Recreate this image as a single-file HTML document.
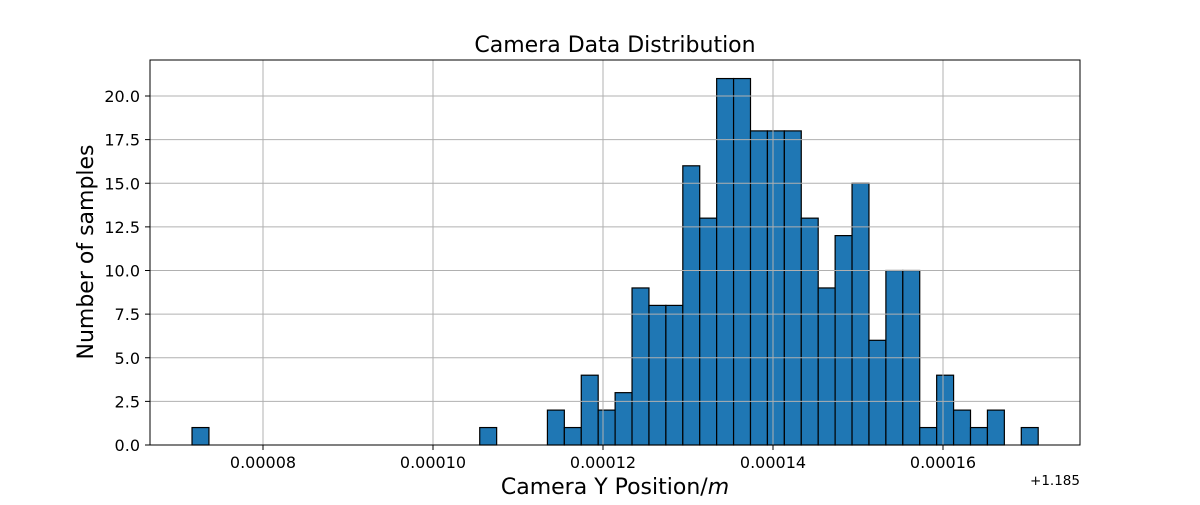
<!DOCTYPE html>
<html><head><meta charset="utf-8"><style>
body{margin:0;background:#fff;}
svg text{font-family:"DejaVu Sans","Liberation Sans",sans-serif;}
</style></head><body>
<svg id="chart" width="1200" height="500">
<rect x="0" y="0" width="1200" height="500" fill="#fff"/>
<g id="bars"></g>
<g id="grid"></g>
<g id="axes"></g>
<text x="615" y="52" font-size="22" text-anchor="middle">Camera Data Distribution</text>
<text x="615" y="494" font-size="22" text-anchor="middle">Camera Y Position/<tspan font-style="italic">m</tspan></text>
<text transform="translate(93,252) rotate(-90)" font-size="22" text-anchor="middle">Number of samples</text>
<text x="1080" y="485" font-size="13.5" text-anchor="end">+1.185</text>
</svg>
<script>
const counts=[1,0,0,0,0,0,0,0,0,0,0,0,0,0,0,0,0,1,0,0,0,2,1,4,2,3,9,8,8,16,13,21,21,18,18,18,13,9,12,15,6,10,10,1,4,2,1,2,0,1];
const binStart=71.65; // in 1e-6 units offset
const binEnd=171.2;
const xTicks=[80,100,120,140,160];
const xTickLabels=["0.00008","0.00010","0.00012","0.00014","0.00016"];
const yTicks=[0,2.5,5,7.5,10,12.5,15,17.5,20];
const yTickLabels=["0.0","2.5","5.0","7.5","10.0","12.5","15.0","17.5","20.0"];

const L=150,R=1080,T=60,B=445;
function X(v){return 263+(v-80)*8.5;}
function Y(v){return B-v*17.45;}
const NS="http://www.w3.org/2000/svg";
function mk(t,a,p){const e=document.createElementNS(NS,t);for(const k in a)e.setAttribute(k,a[k]);p.appendChild(e);return e;}
const bars=document.getElementById('bars'),grid=document.getElementById('grid'),axes=document.getElementById('axes');
const w=(binEnd-binStart)/counts.length;
counts.forEach((c,i)=>{
  if(c<=0)return;
  const x0=X(binStart+i*w),x1=X(binStart+(i+1)*w);
  const r=mk('rect',{x:x0,y:Y(c),width:x1-x0,height:B-Y(c),fill:'#1f77b4',stroke:'#000','stroke-width':1.2},bars);
  
  
});
xTicks.forEach((v,i)=>{
  const x=X(v);
  mk('line',{x1:x,x2:x,y1:T,y2:B,stroke:'#b0b0b0','stroke-width':1},grid);
  mk('line',{x1:x,x2:x,y1:B,y2:B+5,stroke:'#000','stroke-width':1},axes);
  const t=mk('text',{x:x,y:B+23,'font-size':16,'text-anchor':'middle'},axes);
  t.textContent=xTickLabels[i];
  
  
});
yTicks.forEach((v,i)=>{
  const y=Y(v);
  mk('line',{x1:L,x2:R,y1:y,y2:y,stroke:'#b0b0b0','stroke-width':1},grid);
  mk('line',{x1:L-5,x2:L,y1:y,y2:y,stroke:'#000','stroke-width':1},axes);
  const t=mk('text',{x:L-10,y:y+6,'font-size':16,'text-anchor':'end'},axes);
  t.textContent=yTickLabels[i];
  
  
});
mk('rect',{x:L,y:T,width:R-L,height:B-T,fill:'none',stroke:'#000','stroke-width':1},axes);
</script>
</body></html>
